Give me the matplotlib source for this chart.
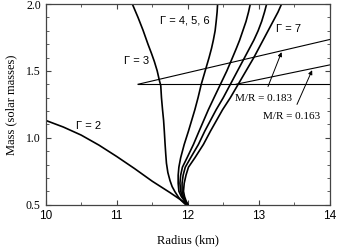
import matplotlib
matplotlib.use("Agg")
import matplotlib.pyplot as plt
from matplotlib.ticker import MultipleLocator

# mass grid shared by the four stiff curves (Gamma = 4..7)
mass_grid = [0.50, 0.53, 0.56, 0.60, 0.66, 0.72, 0.78, 0.85, 0.95, 1.05, 1.13, 1.21, 1.30, 1.40, 1.50,
             1.60, 1.67, 1.73, 1.80, 1.87, 1.94, 2.00]
r_g4 = [12.00, 11.95, 11.91, 11.875, 11.865, 11.865, 11.875, 11.90, 11.95, 12.01, 12.055, 12.10, 12.145,
        12.19, 12.245, 12.30, 12.335, 12.36, 12.385, 12.40, 12.413, 12.42]
r_g5 = [12.00, 11.96, 11.925, 11.90, 11.89, 11.90, 11.925, 11.99, 12.08, 12.16, 12.225, 12.29, 12.37,
        12.46, 12.55, 12.63, 12.685, 12.73, 12.775, 12.82, 12.855, 12.88]
r_g6 = [12.00, 11.965, 11.94, 11.92, 11.92, 11.935, 11.965, 12.04, 12.15, 12.24, 12.32, 12.40, 12.50,
        12.60, 12.70, 12.80, 12.87, 12.93, 12.99, 13.04, 13.08, 13.11]
r_g7 = [12.00, 11.975, 11.955, 11.94, 11.95, 11.975, 12.01, 12.10, 12.22, 12.32, 12.405, 12.49, 12.60,
        12.71, 12.82, 12.93, 13.00, 13.06, 13.13, 13.20, 13.27, 13.32]

# Gamma = 3
r_g3 = [11.97, 11.91, 11.87, 11.82, 11.78, 11.75, 11.72, 11.70, 11.69, 11.68, 11.67, 11.66, 11.645,
        11.63, 11.62, 11.60, 11.57, 11.53, 11.49, 11.44, 11.37, 11.30, 11.22]
m_g3 = [0.50, 0.53, 0.555, 0.596, 0.635, 0.68, 0.74, 0.81, 0.88, 0.96, 1.05, 1.13, 1.21,
        1.30, 1.39, 1.43, 1.50, 1.57, 1.63, 1.70, 1.805, 1.90, 2.00]

# Gamma = 2
r_g2 = [10.0, 10.25, 10.5, 10.75, 11.0, 11.25, 11.5, 11.75, 12.0]
m_g2 = [1.13, 1.08, 1.02, 0.945, 0.86, 0.77, 0.675, 0.59, 0.50]

# constant M/R lines and the 1.4 Msun line
r_mr183 = [11.3, 14.0]
m_mr183 = [1.40, 1.735]
r_mr163 = [12.68, 14.0]
m_mr163 = [1.40, 1.545]
r_h14 = [11.3, 14.0]
m_h14 = [1.40, 1.40]

fig = plt.figure(figsize=(3.38, 2.52), dpi=100)
ax = fig.add_axes([0.135, 0.188, 0.841, 0.796])

lw = 1.2
for r in (r_g4, r_g5, r_g6, r_g7):
    ax.plot(r, mass_grid, color="black", lw=lw)
ax.plot(r_g3, m_g3, color="black", lw=lw)
ax.plot(r_g2, m_g2, color="black", lw=lw)

ax.plot(r_mr183, m_mr183, color="black", lw=0.8)
ax.plot(r_mr163, m_mr163, color="black", lw=0.8)
ax.plot(r_h14, m_h14, color="black", lw=0.8)

sans = "Liberation Sans"
serif = "Liberation Serif"
fs = 8
ax.text(10.61, 1.087, "Γ = 2", fontsize=fs, family=sans, ha="center", va="center")
ax.text(11.28, 1.575, "Γ = 3", fontsize=fs, family=sans, ha="center", va="center")
ax.text(11.96, 1.88, "Γ = 4, 5, 6", fontsize=fs, family=sans, ha="center", va="center")
ax.text(13.42, 1.81, "Γ = 7", fontsize=fs, family=sans, ha="center", va="center")

ax.annotate("M/R = 0.183", xy=(13.32, 1.64), xytext=(13.06, 1.29),
            fontsize=fs, family=serif, ha="center", va="center",
            arrowprops=dict(arrowstyle="-|>", color="black", lw=0.7,
                            mutation_scale=6, shrinkA=4, shrinkB=0))
ax.annotate("M/R = 0.163", xy=(13.75, 1.505), xytext=(13.46, 1.157),
            fontsize=fs, family=serif, ha="center", va="center",
            arrowprops=dict(arrowstyle="-|>", color="black", lw=0.7,
                            mutation_scale=6, shrinkA=4, shrinkB=0))

ax.set_xlim(10, 14)
ax.set_ylim(0.5, 2.0)
ax.set_xticks([10, 11, 12, 13, 14])
ax.set_yticks([0.5, 1.0, 1.5, 2.0])
ax.set_yticklabels(["0.5", "1.0", "1.5", "2.0"])
ax.xaxis.set_minor_locator(MultipleLocator(0.5))
ax.yaxis.set_minor_locator(MultipleLocator(0.1))
ax.tick_params(which="both", direction="in", top=True, right=True, color="#444444")
ax.tick_params(which="major", length=3.5, width=0.8)
ax.tick_params(which="minor", length=2, width=0.6)
ax.tick_params(axis="x", which="major", pad=4)
for lab in ax.get_xticklabels():
    lab.set_family(sans)
    lab.set_fontsize(8.5)
for lab in ax.get_yticklabels():
    lab.set_family(serif)
    lab.set_fontsize(8.5)
for sp in ax.spines.values():
    sp.set_color("#444444")
    sp.set_linewidth(0.9)

ax.set_xlabel("Radius (km)", family=serif, fontsize=9, labelpad=9)
ax.set_ylabel("Mass (solar masses)", family=serif, fontsize=9, labelpad=6)

fig.savefig("out.png", dpi=100)
